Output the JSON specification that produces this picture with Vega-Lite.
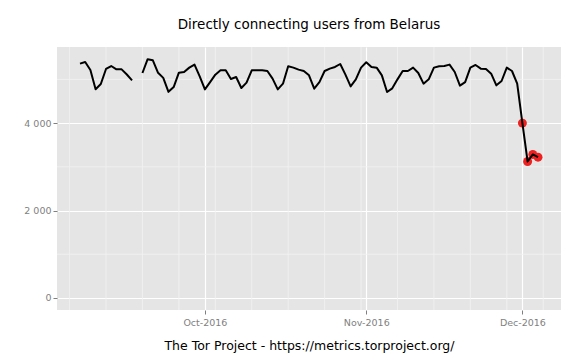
{
  "$schema": "https://vega.github.io/schema/vega-lite/v6.json",
  "autosize": "none",
  "width": 504,
  "height": 263,
  "padding": {"left": 57, "top": 47, "right": 15, "bottom": 50},
  "background": "white",
  "view": {"fill": "#E5E5E5", "stroke": null},
  "config": {
    "font": "DejaVu Sans",
    "axis": {
      "domain": false,
      "grid": true,
      "gridColor": "#FFFFFF",
      "gridWidth": 1.2,
      "tickColor": "#7F7F7F",
      "tickSize": 4,
      "tickWidth": 1,
      "labelColor": "#7F7F7F",
      "labelFont": "DejaVu Sans",
      "labelFontSize": 9.5,
      "labelPadding": 2,
      "titleFont": "DejaVu Sans",
      "titleFontWeight": "normal",
      "titleColor": "#000000"
    }
  },
  "title": {
    "text": "Directly connecting users from Belarus",
    "font": "DejaVu Sans",
    "fontSize": 13.5,
    "fontWeight": "normal",
    "color": "#000000",
    "anchor": "middle",
    "offset": 15
  },
  "datasets": {
    "users": [
      {"date": "2016-09-07", "users": 5361},
      {"date": "2016-09-08", "users": 5397},
      {"date": "2016-09-09", "users": 5215},
      {"date": "2016-09-10", "users": 4776},
      {"date": "2016-09-11", "users": 4895},
      {"date": "2016-09-12", "users": 5238},
      {"date": "2016-09-13", "users": 5306},
      {"date": "2016-09-14", "users": 5230},
      {"date": "2016-09-15", "users": 5230},
      {"date": "2016-09-16", "users": 5112},
      {"date": "2016-09-17", "users": 4978},
      {"date": "2016-09-18", "users": null},
      {"date": "2016-09-19", "users": 5146},
      {"date": "2016-09-20", "users": 5463},
      {"date": "2016-09-21", "users": 5436},
      {"date": "2016-09-22", "users": 5150},
      {"date": "2016-09-23", "users": 5035},
      {"date": "2016-09-24", "users": 4715},
      {"date": "2016-09-25", "users": 4825},
      {"date": "2016-09-26", "users": 5154},
      {"date": "2016-09-27", "users": 5169},
      {"date": "2016-09-28", "users": 5269},
      {"date": "2016-09-29", "users": 5338},
      {"date": "2016-09-30", "users": 5070},
      {"date": "2016-10-01", "users": 4772},
      {"date": "2016-10-02", "users": 4939},
      {"date": "2016-10-03", "users": 5108},
      {"date": "2016-10-04", "users": 5207},
      {"date": "2016-10-05", "users": 5207},
      {"date": "2016-10-06", "users": 5009},
      {"date": "2016-10-07", "users": 5054},
      {"date": "2016-10-08", "users": 4802},
      {"date": "2016-10-09", "users": 4925},
      {"date": "2016-10-10", "users": 5207},
      {"date": "2016-10-11", "users": 5207},
      {"date": "2016-10-12", "users": 5207},
      {"date": "2016-10-13", "users": 5192},
      {"date": "2016-10-14", "users": 5017},
      {"date": "2016-10-15", "users": 4772},
      {"date": "2016-10-16", "users": 4902},
      {"date": "2016-10-17", "users": 5299},
      {"date": "2016-10-18", "users": 5269},
      {"date": "2016-10-19", "users": 5223},
      {"date": "2016-10-20", "users": 5192},
      {"date": "2016-10-21", "users": 5093},
      {"date": "2016-10-22", "users": 4787},
      {"date": "2016-10-23", "users": 4939},
      {"date": "2016-10-24", "users": 5192},
      {"date": "2016-10-25", "users": 5246},
      {"date": "2016-10-26", "users": 5284},
      {"date": "2016-10-27", "users": 5352},
      {"date": "2016-10-28", "users": 5108},
      {"date": "2016-10-29", "users": 4841},
      {"date": "2016-10-30", "users": 5001},
      {"date": "2016-10-31", "users": 5269},
      {"date": "2016-11-01", "users": 5391},
      {"date": "2016-11-02", "users": 5284},
      {"date": "2016-11-03", "users": 5269},
      {"date": "2016-11-04", "users": 5093},
      {"date": "2016-11-05", "users": 4711},
      {"date": "2016-11-06", "users": 4795},
      {"date": "2016-11-07", "users": 5001},
      {"date": "2016-11-08", "users": 5192},
      {"date": "2016-11-09", "users": 5192},
      {"date": "2016-11-10", "users": 5269},
      {"date": "2016-11-11", "users": 5146},
      {"date": "2016-11-12", "users": 4902},
      {"date": "2016-11-13", "users": 5001},
      {"date": "2016-11-14", "users": 5269},
      {"date": "2016-11-15", "users": 5299},
      {"date": "2016-11-16", "users": 5306},
      {"date": "2016-11-17", "users": 5338},
      {"date": "2016-11-18", "users": 5169},
      {"date": "2016-11-19", "users": 4856},
      {"date": "2016-11-20", "users": 4939},
      {"date": "2016-11-21", "users": 5269},
      {"date": "2016-11-22", "users": 5330},
      {"date": "2016-11-23", "users": 5246},
      {"date": "2016-11-24", "users": 5238},
      {"date": "2016-11-25", "users": 5131},
      {"date": "2016-11-26", "users": 4864},
      {"date": "2016-11-27", "users": 4963},
      {"date": "2016-11-28", "users": 5269},
      {"date": "2016-11-29", "users": 5192},
      {"date": "2016-11-30", "users": 4902},
      {"date": "2016-12-01", "users": 4000},
      {"date": "2016-12-02", "users": 3122},
      {"date": "2016-12-03", "users": 3283},
      {"date": "2016-12-04", "users": 3221}
    ],
    "outliers": [
      {"date": "2016-12-01", "users": 4000},
      {"date": "2016-12-02", "users": 3122},
      {"date": "2016-12-03", "users": 3283},
      {"date": "2016-12-04", "users": 3221}
    ],
    "minorY": [{"v": 1000}, {"v": 3000}, {"v": 5000}],
    "minorX": [
      {"date": "2016-09-05"}, {"date": "2016-09-12"}, {"date": "2016-09-19"},
      {"date": "2016-09-26"}, {"date": "2016-10-03"}, {"date": "2016-10-10"},
      {"date": "2016-10-17"}, {"date": "2016-10-24"}, {"date": "2016-10-31"},
      {"date": "2016-11-07"}, {"date": "2016-11-14"}, {"date": "2016-11-21"},
      {"date": "2016-11-28"}, {"date": "2016-12-05"}
    ]
  },
  "layer": [
    {
      "data": {"name": "minorY"},
      "mark": {"type": "rule", "color": "#F2F2F2", "strokeWidth": 0.8},
      "encoding": {
        "y": {"field": "v", "type": "quantitative"}
      }
    },
    {
      "data": {"name": "minorX"},
      "mark": {"type": "rule", "color": "#F2F2F2", "strokeWidth": 0.8},
      "encoding": {
        "x": {"field": "date", "type": "temporal"}
      }
    },
    {
      "data": {"name": "outliers"},
      "mark": {"type": "circle", "color": "#EE2020", "opacity": 1, "size": 80},
      "encoding": {
        "x": {"field": "date", "type": "temporal"},
        "y": {"field": "users", "type": "quantitative"}
      }
    },
    {
      "data": {"name": "users"},
      "mark": {"type": "line", "color": "#000000", "strokeWidth": 2, "strokeJoin": "round"},
      "encoding": {
        "x": {
          "field": "date",
          "type": "temporal",
          "scale": {
            "type": "utc",
            "domain": [
              {"year": 2016, "month": 9, "date": 2, "hours": 14, "utc": true},
              {"year": 2016, "month": 12, "date": 8, "hours": 10, "utc": true}
            ]
          },
          "axis": {
            "values": [
              {"year": 2016, "month": 10, "date": 1, "utc": true},
              {"year": 2016, "month": 11, "date": 1, "utc": true},
              {"year": 2016, "month": 12, "date": 1, "utc": true}
            ],
            "format": "%b-%Y",
            "title": "The Tor Project - https://metrics.torproject.org/",
            "titleFontSize": 12.5,
            "titlePadding": 13,
            "labelPadding": 3
          }
        },
        "y": {
          "field": "users",
          "type": "quantitative",
          "scale": {"domain": [-275, 5741], "nice": false, "zero": false},
          "axis": {
            "values": [0, 2000, 4000],
            "labelExpr": "replace(format(datum.value, ','), ',', ' ')",
            "title": null
          }
        }
      }
    }
  ]
}
